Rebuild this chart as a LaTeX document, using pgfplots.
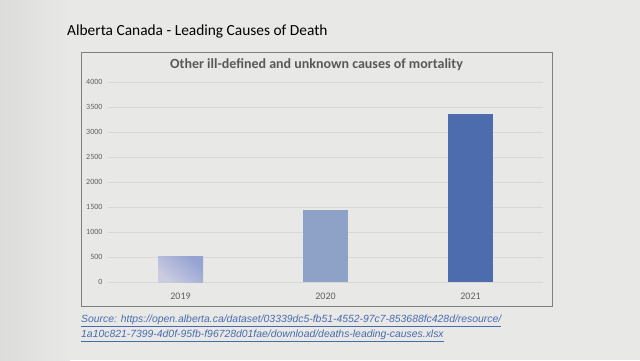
\documentclass[border=0pt]{standalone}
\usepackage{pgfplots}
\pgfplotsset{compat=1.18}
\usepackage{fontspec}
\setmainfont{Carlito}
\newfontfamily\srcfont{Liberation Sans}
\definecolor{bg}{HTML}{E8E9E6}
\definecolor{bgdark}{HTML}{DCDDDA}
\definecolor{framec}{HTML}{7F7F7F}
\definecolor{gridc}{HTML}{D8D9D6}
\definecolor{tickc}{HTML}{606060}
\definecolor{titlec}{HTML}{595959}
\definecolor{srcblue}{HTML}{4A6AAE}
\definecolor{barA1}{HTML}{95A3D2}
\definecolor{barA2}{HTML}{CBCCE0}
\definecolor{barB}{HTML}{8EA2C7}
\definecolor{barC}{HTML}{4D6CAD}
\begin{document}
\begin{tikzpicture}
\fill[bg] (0pt,0pt) rectangle (640pt,360pt);
\shade[left color=bgdark, right color=bg] (0pt,0pt) rectangle (70pt,360pt);
\draw[framec, line width=1pt] (81pt,308pt) rectangle (552pt,54pt);
\node[anchor=west, inner sep=0pt, font=\fontsize{15.4}{17}\selectfont, text=black] at (67pt,329pt) {Alberta Canada - Leading Causes of Death};
\node[inner sep=0pt, font=\bfseries\fontsize{14}{16}\selectfont, text=titlec] at (316.5pt,295pt) {Other ill-defined and unknown causes of mortality};
\begin{axis}[
  at={(108pt,77.7pt)}, anchor=south west,
  width=435pt, height=200.3pt, scale only axis,
  xmin=-0.5, xmax=2.5, ymin=0, ymax=4000,
  ytick={0,500,...,4000},
  xtick={0,1,2}, xticklabels={2019,2020,2021},
  axis line style={draw=none},
  major tick length=0pt,
  ymajorgrids, grid style={draw=gridc, line width=0.8pt},
  /pgf/number format/assume math mode=true,
  /pgf/number format/1000 sep={},
  yticklabel style={font=\fontsize{8}{9}\selectfont, text=tickc, xshift=-2pt},
  xticklabel style={font=\fontsize{10}{12}\selectfont, text=tickc, yshift=-7pt},
]
\addplot[ybar, bar width=45pt, bar shift=0pt, draw=none, left color=barA1, right color=barA2, shading angle=-40] coordinates {(0,510)};
\addplot[ybar, bar width=45pt, bar shift=0pt, draw=none, fill=barB] coordinates {(1,1450)};
\addplot[ybar, bar width=45pt, bar shift=0pt, draw=none, fill=barC] coordinates {(2,3365)};
\end{axis}
\node[anchor=north west, align=left, inner sep=0pt, font=\srcfont\itshape\fontsize{10.4}{14.5}\selectfont, text=srcblue] at (81pt,45pt) {\underline{Source: https://open.alberta.ca/dataset/03339dc5-fb51-4552-97c7-853688fc428d/resource/}\\\underline{1a10c821-7399-4d0f-95fb-f96728d01fae/download/deaths-leading-causes.xlsx}};
\end{tikzpicture}
\end{document}
